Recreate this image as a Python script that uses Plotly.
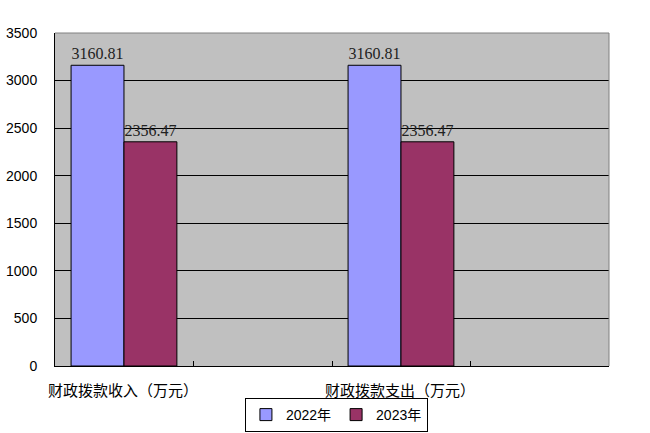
import plotly.graph_objects as go

categories = ["财政拨款收入（万元）", "财政拨款支出（万元）"]
years = ["2022年", "2023年"]
values_2022 = [3160.81, 3160.81]
values_2023 = [2356.47, 2356.47]
y_ticks = [0, 500, 1000, 1500, 2000, 2500, 3000, 3500]

colors = ["#9999FF", "#993366"]
idx = list(range(len(categories)))

fig = go.Figure()
bar_w = 0.191
offsets = [-0.442, -0.442 + bar_w]
for name, vals, col, off in zip(years, [values_2022, values_2023], colors, offsets):
    fig.add_trace(go.Bar(
        x=idx, y=vals, name=name, width=bar_w, offset=off,
        marker=dict(color=col, line=dict(color="black", width=1)),
        text=[f"{v:.2f}" for v in vals], textposition="outside",
        textfont=dict(family="Liberation Serif", size=16, color="#222"),
        cliponaxis=False,
    ))

for i, c in enumerate(categories):
    fig.add_annotation(x=i - 0.255, y=-0.072, xref="x", yref="paper", text=c,
                       showarrow=False, yanchor="middle",
                       font=dict(family="Noto Sans CJK SC", size=15, color="black"))

fig.add_shape(type="line", xref="paper", yref="paper", x0=0, x1=1, y0=1, y1=1,
              line=dict(color="#808080", width=1), layer="above")
fig.add_shape(type="line", xref="paper", yref="paper", x0=1, x1=1, y0=0, y1=1,
              line=dict(color="#808080", width=1), layer="above")

fig.update_layout(
    width=650, height=433,
    margin=dict(l=55, r=41, t=33, b=67, autoexpand=False),
    paper_bgcolor="white", plot_bgcolor="#C0C0C0",
    barmode="overlay",
    showlegend=True,
    legend=dict(orientation="h", x=0.508, xanchor="center", xref="paper",
                y=1 - 398 / 433, yanchor="top", yref="container",
                bordercolor="black", borderwidth=1, bgcolor="white",
                font=dict(family="Liberation Sans, Noto Sans CJK SC", size=14, color="black"),
                itemwidth=30, tracegroupgap=0),
    xaxis=dict(range=[-0.5, len(categories) - 0.5], tickvals=[0, 0.5, 1], ticktext=["", "", ""],
               ticks="inside", ticklen=5, tickcolor="black", showgrid=False, zeroline=False,
               showline=True, linecolor="black", linewidth=1, fixedrange=True, automargin=False),
    yaxis=dict(range=[0, 3500], tickvals=y_ticks, showgrid=True, gridcolor="black", gridwidth=1,
               zeroline=False, showline=True, linecolor="black", linewidth=1, ticks="",
               ticklabelstandoff=14, automargin=False,
               tickfont=dict(family="Liberation Sans", size=14, color="black")),
)

fig.write_html("out.html", config={"displayModeBar": False},
               post_script="document.body.style.margin='0';document.body.style.padding='0';")
